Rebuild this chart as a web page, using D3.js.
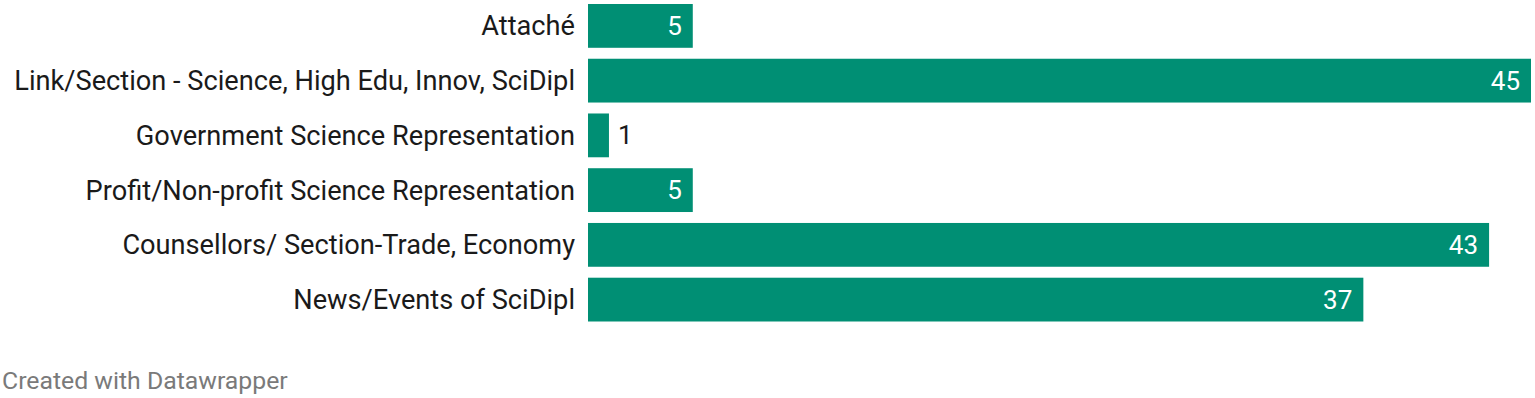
<!DOCTYPE html>
<html><head><meta charset="utf-8">
<script src="https://cdn.jsdelivr.net/npm/d3@7"></script>
<style>body{margin:0;background:#fff;}svg{display:block;}</style>
</head><body>
<script>
const categories = ["Attaché","Link/Section - Science, High Edu, Innov, SciDipl","Government Science Representation","Profit/Non-profit Science Representation","Counsellors/ Section-Trade, Economy","News/Events of SciDipl"];
const values = [5,45,1,5,43,37];
const footer = "Created with Datawrapper";

const W=1535,H=398;
const svg=d3.select("body").append("svg").attr("width",W).attr("height",H);
const x=d3.scaleLinear().domain([0,45]).range([588,1531]);
const y=d3.scaleBand().domain(categories).range([4,321.5]).paddingInner(0.2).paddingOuter(0);
const color="#008f74";
const font="Roboto, sans-serif";

const g=svg.append("g");
g.selectAll("rect").data(values).join("rect")
 .attr("x",x(0)).attr("y",(d,i)=>y(categories[i])).attr("width",d=>x(d)-x(0)).attr("height",y.bandwidth()).attr("fill",color);

g.selectAll("text.cat").data(categories).join("text").attr("class","cat")
 .attr("x",575).attr("y",d=>y(d)+y.bandwidth()/2).attr("dy","0.35em").attr("text-anchor","end")
 .style("font-family",font).style("font-size","27.2px").attr("fill","#1a1a1a").text(d=>d);

g.selectAll("text.val").data(values).join("text").attr("class","val")
 .each(function(d,i){
   const inside = x(d)-x(0) > 50;
   d3.select(this).attr("x", inside ? x(d)-11 : x(d)+9)
     .attr("text-anchor", inside ? "end":"start")
     .attr("fill", inside ? "#fff":"#1a1a1a");
 })
 .attr("y",(d,i)=>y(categories[i])+y.bandwidth()/2).attr("dy","0.35em")
 .style("font-family",font).style("font-size","26px").text(d=>d);

svg.append("text").attr("x",2).attr("y",389).style("font-family",font).style("font-size","24.8px").attr("fill","#7a7a7a").text(footer);
</script>
</body></html>
